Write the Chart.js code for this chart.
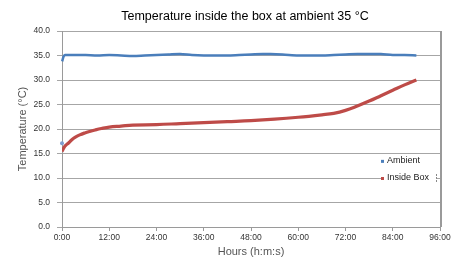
<!DOCTYPE html>
<html>
<head>
<meta charset="utf-8">
<script src="https://cdn.jsdelivr.net/npm/chart.js@4/dist/chart.umd.min.js"></script>
<style>
  html, body { margin: 0; padding: 0; background: #fff; }
  #wrap { width: 462px; height: 259px; }
</style>
</head>
<body>
<div id="wrap"><canvas id="chart" width="462" height="259"></canvas></div>
<script>
// values
// (the first ambient reading is a lone dot, kept apart from the line by a gap)
var ambientHours = [0, 0.01, 0.05, 0.4, 0.8, 2, 4, 6, 9, 12, 15, 18, 21, 24, 27, 30, 33, 36, 39, 42, 45, 48, 51, 53, 56, 60, 63, 66, 69, 72, 75, 78, 81, 84, 87, 90];
var ambientTemp = [17.1, null, 33.8, 34.8, 35.1, 35.1, 35.1, 35.1, 35.0, 35.1, 35.0, 34.9, 35.0, 35.1, 35.2, 35.3, 35.1, 35.0, 35.0, 35.0, 35.1, 35.2, 35.3, 35.3, 35.2, 35.0, 35.0, 35.0, 35.1, 35.2, 35.3, 35.3, 35.3, 35.1, 35.1, 35.0];

var insideHours = [0, 0.5, 1, 1.6, 2.5, 3.3, 4.5, 5.8, 7, 8.4, 10, 12, 15, 18, 24, 30, 36, 42, 48, 54, 60, 66, 69, 72, 75, 78, 81, 84, 87, 90];
var insideTemp = [15.4, 16.2, 16.7, 17.1, 17.8, 18.3, 18.8, 19.2, 19.5, 19.8, 20.1, 20.4, 20.6, 20.8, 20.9, 21.1, 21.3, 21.5, 21.7, 22.0, 22.4, 22.9, 23.2, 23.8, 24.7, 25.7, 26.8, 27.9, 29.0, 30.0];

var seriesNames = ["Ambient", "Inside Box"];
var seriesColors = ["#4a7ebb", "#be4b48"];
var titleText = "Temperature inside the box at ambient 35 \u00b0C";
var xTitle = "Hours (h:m:s)";
var yTitle = "Temperature (\u00b0C)";
var fontFamily = "'Liberation Sans', Arial, sans-serif";

function toPoints(xs, ys) {
    return xs.map(function (x, i) { return { x: x, y: ys[i] }; });
}

// title, and a legend drawn inside the plot area on the right
var decorations = {
    id: "decorations",
    afterDraw: function (chart) {
        var ctx = chart.ctx,
            area = chart.chartArea,
            y = chart.scales.y;
        var rows = [y.getPixelForValue(13.5), y.getPixelForValue(10.0)];
        var mx = area.right - 58;

        ctx.save();
        ctx.fillStyle = "#000";
        ctx.font = "12.5px " + fontFamily;
        ctx.textAlign = "center";
        ctx.textBaseline = "middle";
        ctx.fillText(titleText, 245, 17);

        // legend box background hides the gridline behind it
        ctx.fillStyle = "#fff";
        ctx.fillRect(mx + 2, rows[0] - 6, area.right - mx - 6, rows[1] - rows[0] + 12);

        ctx.font = "9px " + fontFamily;
        ctx.textAlign = "left";
        chart.data.datasets.forEach(function (ds, i) {
            ctx.fillStyle = ds.borderColor;
            ctx.fillRect(mx - 1, rows[i] - 1, 3, 3);
            ctx.fillStyle = "#222";
            ctx.fillText(ds.label, mx + 5, rows[i]);
        });

        // small dotted mark at the legend's right edge
        ctx.strokeStyle = "#888";
        ctx.lineWidth = 1;
        ctx.setLineDash([2, 1]);
        ctx.beginPath();
        ctx.moveTo(area.right - 3.5, rows[1] - 4);
        ctx.lineTo(area.right - 3.5, rows[1] + 4);
        ctx.stroke();
        ctx.setLineDash([]);

        // right edge of the plot frame
        ctx.strokeStyle = "#9a9a9a";
        ctx.lineWidth = 2;
        ctx.beginPath();
        ctx.moveTo(area.right + 1, area.top);
        ctx.lineTo(area.right + 1, area.bottom);
        ctx.stroke();
        ctx.restore();
    }
};

new Chart(document.getElementById("chart"), {
    type: "scatter",
    data: {
        datasets: [
            {
                label: seriesNames[0],
                data: toPoints(ambientHours, ambientTemp),
                borderColor: seriesColors[0],
                backgroundColor: "#7f9fd0",
                showLine: true,
                spanGaps: false,
                clip: false,
                borderWidth: 2.5,
                pointRadius: function (c) { return c.dataIndex === 0 ? 2 : 0; },
                pointBorderWidth: 0,
                tension: 0.3
            },
            {
                label: seriesNames[1],
                data: toPoints(insideHours, insideTemp),
                borderColor: seriesColors[1],
                backgroundColor: seriesColors[1],
                showLine: true,
                borderWidth: 3.2,
                pointRadius: 0,
                tension: 0.4
            }
        ]
    },
    options: {
        responsive: false,
        animation: false,
        layout: { padding: { left: 0, right: 22, top: 31, bottom: 0 } },
        plugins: {
            legend: { display: false },
            tooltip: { enabled: false },
            title: { display: false }
        },
        scales: {
            x: {
                type: "linear",
                min: 0,
                max: 96,
                afterFit: function (s) { s.height = 32; },
                ticks: {
                    stepSize: 12,
                    color: "#333",
                    padding: 2,
                    maxRotation: 0,
                    font: { family: fontFamily, size: 8.5 },
                    callback: function (v) { return v + ":00"; }
                },
                grid: { drawOnChartArea: false, color: "#9a9a9a", tickLength: 4 },
                border: { color: "#9a9a9a", width: 1 },
                title: {
                    display: true,
                    text: xTitle,
                    color: "#555",
                    padding: 0,
                    font: { family: fontFamily, size: 11 }
                }
            },
            y: {
                min: 0,
                max: 40,
                afterFit: function (s) { s.width = 62; },
                ticks: {
                    stepSize: 5,
                    color: "#333",
                    padding: 7,
                    font: { family: fontFamily, size: 8.5 },
                    callback: function (v) { return v.toFixed(1); }
                },
                grid: { color: "#a6a6a6", tickLength: 5 },
                border: { color: "#9a9a9a", width: 1 },
                title: {
                    display: true,
                    text: yTitle,
                    color: "#555",
                    padding: { top: 16, bottom: 0 },
                    font: { family: fontFamily, size: 11 }
                }
            }
        }
    },
    plugins: [decorations]
});
</script>
</body>
</html>
